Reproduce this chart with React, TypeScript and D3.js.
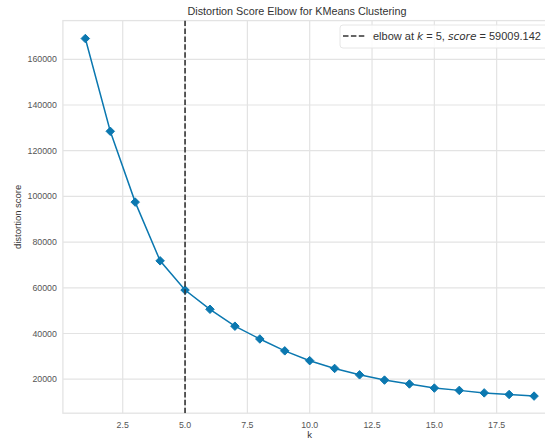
import React from "react";
import * as d3 from "d3";

const ks = [1, 2, 3, 4, 5, 6, 7, 8, 9, 10, 11, 12, 13, 14, 15, 16, 17, 18, 19];
const scores = [169100, 128500, 97500, 71800, 59009.142, 50600, 43200, 37600, 32400, 28100, 24700, 21900, 19600, 17900, 16100, 15100, 14000, 13300, 12600];
const elbowK = 5;
const elbowScore = 59009.142;
const xTicks = [2.5, 5.0, 7.5, 10.0, 12.5, 15.0, 17.5];
const yTicks = [20000, 40000, 60000, 80000, 100000, 120000, 140000, 160000];
const title = "Distortion Score Elbow for KMeans Clustering";
const xLabel = "k";
const yLabel = "distortion score";

const W = 545;
const H = 439;
const left = 62.9;
const right = 556.5;
const top = 20.6;
const bottom = 413.2;

export default function App() {
  const x = d3.scaleLinear().domain([0.1, 19.9]).range([left, right]);
  const y = d3.scaleLinear().domain([5110, 176950]).range([bottom, top]);
  const line = d3
    .line<number>()
    .x((_, i) => x(ks[i]))
    .y((d) => y(d));
  const grid = "#e3e3e3";
  const tickColor = "#555";
  const blue = "#0b78b0";
  const font = "'Liberation Sans', Arial, sans-serif";
  const s = 3.4;
  const diamond = `M0,${-s * 1.25}L${s * 1.25},0L0,${s * 1.25}L${-s * 1.25},0Z`;
  return (
    <svg
      width={W}
      height={H}
      style={{ position: "fixed", left: 0, top: 0, background: "#fff" }}
      fontFamily={font}
    >
      <rect x={0} y={0} width={W} height={H} fill="#fff" />
      <defs>
        <clipPath id="plot">
          <rect x={left} y={top} width={right - left} height={bottom - top} />
        </clipPath>
      </defs>
      {yTicks.map((t) => (
        <line key={"gy" + t} x1={left} x2={right} y1={y(t)} y2={y(t)} stroke={grid} strokeWidth={1.2} />
      ))}
      {xTicks.map((t) => (
        <line key={"gx" + t} x1={x(t)} x2={x(t)} y1={top} y2={bottom} stroke={grid} strokeWidth={1.2} />
      ))}
      <rect x={left} y={top} width={right - left} height={bottom - top} fill="none" stroke={grid} strokeWidth={1.3} />
      {yTicks.map((t) => (
        <text key={"ty" + t} x={left - 6} y={y(t)} dy="0.35em" textAnchor="end" fontSize={8.8} fill={tickColor}>
          {String(t)}
        </text>
      ))}
      {xTicks.map((t) => (
        <text key={"tx" + t} x={x(t)} y={bottom + 15} textAnchor="middle" fontSize={8.8} fill={tickColor}>
          {t.toFixed(1)}
        </text>
      ))}
      <g clipPath="url(#plot)">
        <path d={line(scores) || ""} fill="none" stroke={blue} strokeWidth={1.5} />
        {scores.map((v, i) => (
          <path key={"m" + i} d={diamond} transform={`translate(${x(ks[i])},${y(v)})`} fill={blue} stroke={blue} strokeWidth={1} />
        ))}
        <line
          x1={x(elbowK)}
          x2={x(elbowK)}
          y1={top}
          y2={bottom}
          stroke="#333"
          strokeWidth={1.6}
          strokeDasharray="5.5,2.4"
        />
      </g>
      <g>
        <rect x={340} y={25} width={230} height={23} rx={3} fill="#fff" fillOpacity={0.85} stroke="#e6e6e6" strokeWidth={1} />
        <line x1={343} x2={365} y1={36} y2={36} stroke="#333" strokeWidth={1.6} strokeDasharray="5.5,2.4" />
        <text x={373} y={39.8} fontSize={11} fill="#333">
          elbow at <tspan fontFamily="'DejaVu Sans', sans-serif" fontStyle="italic" fontSize={10.5}>k</tspan> = 5,{" "}
          <tspan fontFamily="'DejaVu Sans', sans-serif" fontStyle="italic" fontSize={10.5}>score</tspan> = {elbowScore.toFixed(3)}
        </text>
      </g>
      <text x={297} y={14.5} textAnchor="middle" fontSize={10.8} fill="#333">
        {title}
      </text>
      <text x={309.5} y={438} textAnchor="middle" fontSize={9.5} fill="#333">
        {xLabel}
      </text>
      <text
        transform={`translate(20.5,${(top + bottom) / 2}) rotate(-90)`}
        textAnchor="middle"
        fontSize={9.5}
        fill="#333"
      >
        {yLabel}
      </text>
    </svg>
  );
}
